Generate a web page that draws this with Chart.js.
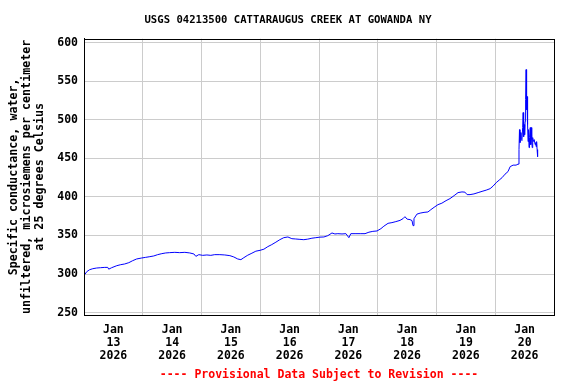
<!DOCTYPE html>
<html>
<head>
<meta charset="utf-8">
<script src="https://cdn.jsdelivr.net/npm/chart.js@4/dist/chart.umd.min.js"></script>
<style>
  html, body { margin: 0; padding: 0; background: #ffffff; }
</style>
</head>
<body>
<canvas id="chart" width="576" height="384"></canvas>
<script>
// Jam sejak Jan 13 2026 00:00
const hours = [
  0.3, 1.1, 2.3, 3.6, 5.2, 6.8, 8.5, 9.7, 10.1, 11.3, 13.4, 15.0, 16.6, 18.3, 19.9, 21.5, 23.6,
  25.2, 26.9, 28.5, 30.1, 31.8, 33.4, 35.0, 37.1, 39.1, 41.2, 43.2, 44.9, 45.7, 46.9, 48.5,
  50.2, 51.8, 53.4, 55.5, 57.5, 59.6, 61.2, 62.8, 64.1, 65.3, 66.9, 68.6, 70.2, 71.9, 73.5,
  75.1, 76.7, 78.4, 80.0, 81.6, 83.3, 84.9, 86.5, 88.2, 89.8, 91.4, 93.1, 94.7, 96.4, 98.0,
  99.6, 101.3, 102.5, 103.7, 105.4, 107.0, 108.2, 109.0, 111.1, 113.1, 114.8, 116.4, 118.0,
  119.7, 121.3, 122.5, 124.2, 125.8, 127.4, 129.1, 130.3, 131.1, 132.0, 133.2, 134.0, 134.4,
  134.8, 136.0, 137.3, 138.9, 140.5, 141.7, 143.0, 144.6, 146.2, 147.9, 149.5, 151.2, 152.8,
  154.4, 155.6, 156.5, 157.7, 159.3, 161.0, 162.6, 164.3, 165.9, 167.1, 168.4, 169.6, 170.8,
  172.0, 173.2, 174.1, 175.3, 176.5, 177.3,
  177.7, 177.9, 178.1, 178.3, 178.5, 178.9, 179.2, 179.4, 179.6, 179.8, 180.0, 180.2, 180.4,
  180.6, 180.8, 181.0, 181.2, 181.4, 181.6, 181.8, 182.0, 182.3, 182.5, 182.7, 182.9, 183.1,
  183.3, 183.5, 183.9, 184.3, 184.5, 184.7, 184.9, 185.1, 185.3
];
const conductance = [
  299.3, 303.1, 305.7, 307.0, 307.9, 308.3, 308.7, 308.7, 306.4, 308.3, 310.9, 312.2, 313.1, 314.8, 317.4, 319.6, 320.9,
  321.7, 322.6, 323.5, 325.2, 326.5, 327.4, 327.8, 328.2, 327.8, 328.2, 327.4, 326.1, 323.0, 325.2, 324.3,
  324.8, 324.3, 325.2, 325.2, 324.8, 323.9, 322.2, 319.6, 318.7, 321.3, 324.5, 327.1, 329.7, 330.8, 332.3,
  335.6, 338.2, 341.4, 344.6, 347.2, 348.1, 345.9, 345.5, 345.0, 344.6, 345.3, 346.5, 347.2, 347.9, 348.1,
  349.8, 353.3, 352.0, 352.4, 352.0, 352.4, 347.2, 352.4, 352.4, 352.4, 352.4, 354.3, 355.4,
  355.9, 358.9, 362.1, 365.8, 366.7, 368.0, 369.6, 371.8, 374.4, 371.2, 370.6, 369.3, 362.8,
  371.8, 377.7, 379.0, 380.0, 380.5, 383.5, 386.5, 390.0, 391.9, 395.2, 397.8, 401.7, 405.6,
  406.5, 406.2, 403.0, 403.0, 403.9, 405.6, 407.2, 408.8, 410.7, 414.0, 418.5, 421.8, 425.0,
  429.5, 432.8, 439.3, 441.2, 441.2, 442.5,
  461.3, 487.2, 470.4, 483.3, 474.3, 473.0, 489.8, 509.3, 478.1, 493.7, 480.7, 497.6, 526.1,
  565.0, 513.1, 530.0, 493.7, 471.7, 487.2, 463.9, 476.9, 489.8, 467.8, 489.8, 474.3, 463.9,
  476.9, 471.7, 474.3, 467.8, 470.4, 465.2, 471.7, 461.3, 452.2
];
const dayLabels = ['13', '14', '15', '16', '17', '18', '19', '20'];
const yTicks = [250, 300, 350, 400, 450, 500, 550, 600];

const FONT = "'DejaVu Sans Mono', monospace";

// Teks peringatan di bawah grafik
const footerPlugin = {
  id: 'footerText',
  afterDraw(chart) {
    const ctx = chart.ctx;
    const area = chart.chartArea;
    ctx.save();
    ctx.font = "bold 11.5px " + FONT;
    ctx.fillStyle = '#ff0000';
    ctx.textAlign = 'center';
    ctx.textBaseline = 'middle';
    ctx.fillText('---- Provisional Data Subject to Revision ----', (area.left + area.right) / 2, 375);
    ctx.restore();
  }
};

const points = hours.map((h, i) => ({ x: h, y: conductance[i] }));

new Chart(document.getElementById('chart'), {
  type: 'line',
  data: {
    datasets: [{
      data: points,
      borderColor: '#0000ff',
      borderWidth: 1,
      pointRadius: 0,
      tension: 0,
      fill: false
    }]
  },
  options: {
    responsive: false,
    animation: false,
    layout: { padding: 0 },
    plugins: {
      legend: { display: false },
      tooltip: { enabled: false },
      title: {
        display: true,
        text: 'USGS 04213500 CATTARAUGUS CREEK AT GOWANDA NY',
        color: '#000000',
        font: { family: FONT, size: 10.6, weight: 'bold', lineHeight: 1.2 },
        padding: { top: 14, bottom: 12 }
      }
    },
    scales: {
      x: {
        type: 'linear',
        min: 0,
        max: 192,
        afterFit(scale) { scale.height = 69; },
        afterBuildTicks(scale) {
          const t = [];
          for (let h = 12; h < 192; h += 12) t.push({ value: h });
          scale.ticks = t;
        },
        border: { display: true, color: '#000000', width: 1 },
        grid: {
          drawTicks: false,
          lineWidth: 1,
          color: (ctx) => (ctx.tick && ctx.tick.value % 24 === 0) ? '#cccccc' : 'rgba(0,0,0,0)'
        },
        ticks: {
          autoSkip: false,
          maxRotation: 0,
          padding: 9,
          color: '#000000',
          font: { family: FONT, size: 11.5, weight: 'bold', lineHeight: 1.13 },
          callback: (v) => {
            if (v % 24 !== 12) return '';
            return ['Jan', dayLabels[(v - 12) / 24], '2026'];
          }
        }
      },
      y: {
        min: 247,
        max: 605,
        afterFit(scale) { scale.width = 84; },
        afterBuildTicks(scale) {
          scale.ticks = yTicks.map(v => ({ value: v }));
        },
        border: { display: true, color: '#000000', width: 1 },
        grid: { drawTicks: false, color: '#cccccc', lineWidth: 1 },
        ticks: {
          padding: 6,
          color: '#000000',
          font: { family: FONT, size: 11.5, weight: 'bold' }
        },
        title: {
          display: true,
          text: ['Specific conductance, water,', 'unfiltered, microsiemens per centimeter', 'at 25 degrees Celsius'],
          color: '#000000',
          font: { family: FONT, size: 11.7, weight: 'bold', lineHeight: 1.08 },
          padding: { top: 8, bottom: 0 }
        }
      },
      // sumbu kosong di kanan, hanya untuk memberi ruang
      yRight: {
        position: 'right',
        min: 247,
        max: 605,
        afterFit(scale) { scale.width = 22; },
        border: { display: false },
        grid: { display: false, drawOnChartArea: false },
        ticks: { display: false }
      }
    }
  },
  plugins: [footerPlugin, {
    // bingkai hitam di sekeliling area grafik
    id: 'frame',
    afterDraw(chart) {
      const a = chart.chartArea;
      const ctx = chart.ctx;
      ctx.save();
      ctx.strokeStyle = '#000000';
      ctx.lineWidth = 1;
      ctx.strokeRect(Math.round(a.left) + 0.5, Math.round(a.top) + 0.5, Math.round(a.right - a.left), Math.round(a.bottom - a.top));
      ctx.restore();
    }
  }]
});
</script>
</body>
</html>
